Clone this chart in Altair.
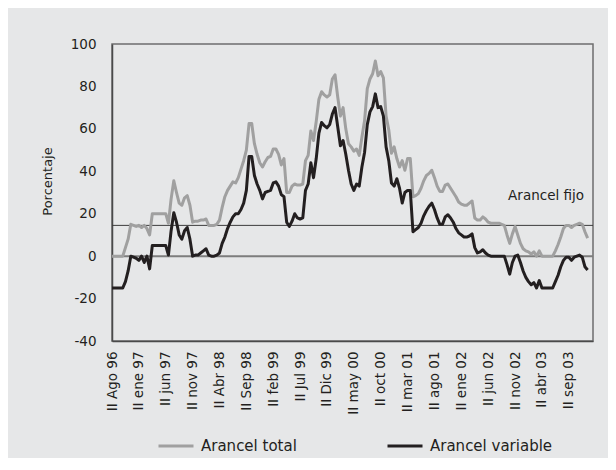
import altair as alt
import pandas as pd

# ---------------- data ----------------
x_labels = ["II Ago 96", "II ene 97", "II jun 97", "II nov 97", "II Abr 98", "II Sep 98",
            "II feb 99", "II Jul 99", "II Dic 99", "II may 00", "II oct 00", "II mar 01",
            "II ago 01", "II ene 02", "II jun 02", "II nov 02", "II abr 03", "II sep 03"]

arancel_total = [
    0, 0, 0, 0, 0, 4, 8, 15, 14.5, 14,
    14.5, 13.5, 14.5, 13, 10, 20, 20, 20, 20, 20,
    20, 15.5, 27, 35.5, 30, 25, 24, 27.5, 28.5, 24,
    16, 16.5, 16.5, 17, 17, 17.5, 14.5, 14.5, 14.5, 15,
    17, 23, 28, 31, 33, 35, 34.5, 37, 41, 45,
    50, 62.5, 62.5, 53, 48, 44, 42, 44.5, 46.5, 47,
    50.5, 50.5, 48, 43, 46, 30, 30, 33, 34, 33.5,
    33.5, 34, 45, 47.5, 59, 54.5, 63.5, 74, 77.5, 76,
    75, 76, 83.5, 85.5, 75, 66, 70, 60, 53, 51.5,
    49.5, 50.5, 47.5, 56, 64, 79, 83.5, 86, 92, 85,
    87, 84, 66, 59.5, 48.5, 51.5, 46, 42, 45, 40.5,
    46, 46, 28, 28.5, 29.5, 32, 35.5, 38, 39, 40.5,
    37, 33, 30.5, 30.5, 33.5, 34, 32, 30, 28, 25.5,
    24.5, 24, 24, 25, 26, 18, 17, 17, 18.5, 17.5,
    16, 15.5, 15.5, 15.5, 15.5, 15, 14.5, 10, 6, 10.5,
    14, 10, 6, 3.5, 2.5, 2, 1, 2, 0, 2.5,
    0, 0, 0, 0, 0, 2.5, 5.5, 9, 13, 14.5,
    14.5, 13.5, 14.5, 15, 15.5, 15, 11.5, 8.5]

arancel_variable = [
    -15, -15, -15, -15, -15, -12, -7, 0, -0.5, -1,
    -2, 0, -3, 0, -6, 5, 5, 5, 5, 5,
    5, 0.5, 12, 20.5, 16, 10, 8, 12, 13.5, 8,
    0, 0.5, 0.5, 1.5, 2.5, 3.5, 0.5, 0, 0, 0.5,
    1.5, 6, 9, 13, 16, 18.5, 20, 20, 22, 25,
    31, 47, 47, 38, 34, 31, 27, 30, 30.5, 31,
    34.5, 35, 33, 29, 28, 16, 14, 16.5, 20, 18,
    17.5, 18, 31, 34, 44, 37, 46, 58, 63, 61.5,
    60.5, 62, 67, 70, 61, 52, 54.5, 48, 40.5, 34,
    31, 34, 33, 42, 49, 62, 68, 70.5, 76.5, 70,
    70.5, 66, 51.5, 45, 34.5, 33, 36.5, 32, 25, 30,
    31, 31, 11.5, 12.5, 13.5, 15.5, 19, 21.5, 23.5, 25,
    22, 18, 15, 15, 18.5, 19.5, 18, 16, 13, 11,
    10, 9, 9, 9.5, 10.5, 4, 1.5, 2, 3, 1.5,
    0.5, 0, 0, 0, 0, 0, 0, -4, -8.5, -3,
    0, 0.5, -3, -7, -10, -12, -13.5, -12.5, -15, -11.5,
    -15, -15, -15, -15, -15, -12, -9, -5, -2, -0.5,
    -0.5, -2, -0.5, 0, 0.5, -0.5, -5, -6.5]

arancel_fijo = 14.5
y_ticks = [-40, -20, 0, 20, 40, 60, 80, 100]
series_names = ["Arancel total", "Arancel variable"]
series_colors = ["#a0a0a0", "#231f20"]
ref_names = ["cero", "fijo"]
ref_values = [0, arancel_fijo]
ref_colors = ["#7d7d7d", "#3c3c3c"]

X0, X1 = 0, 179
Y0, Y1 = -40, 100

# ---------------- table ----------------
n = len(arancel_total)
rows_i, rows_v, rows_s = [], [], []
for name, val in zip(ref_names, ref_values):      # reference lines first (drawn below)
    rows_i += [X0, X1]
    rows_v += [val, val]
    rows_s += [name, name]
rows_i += list(range(n)) * 2
rows_v += arancel_total + arancel_variable
rows_s += [series_names[0]] * n + [series_names[1]] * n
df = pd.DataFrame({"i": rows_i, "v": rows_v, "serie": rows_s})

W, H = 481, 297
FONT = "DejaVu Sans"
TXT = "#231f20"
BG = "#e6e7e8"

all_names = ref_names + series_names
lab_expr = "split('" + "|".join(x_labels) + "', '|')[round(datum.value/10)]"

chart = alt.Chart(df).mark_line(strokeJoin="round").encode(
    x=alt.X("i:Q", scale=alt.Scale(domain=[X0, X1], nice=False, zero=False),
            axis=alt.Axis(values=[k * 10 for k in range(len(x_labels))], labelExpr=lab_expr,
                          labelAngle=270, ticks=False, grid=False, title=None,
                          domainColor="#4a4a4a", domainWidth=1.5, labelPadding=10,
                          labelFont=FONT, labelFontSize=13.5, labelColor=TXT)),
    y=alt.Y("v:Q", scale=alt.Scale(domain=[Y0, Y1], nice=False),
            axis=alt.Axis(values=y_ticks, labelExpr="'' + datum.value", ticks=False, grid=False,
                          title="Porcentaje", titleFont=FONT, titleFontSize=13,
                          titleFontWeight="normal", titleColor=TXT, titlePadding=16,
                          titleY=137,
                          domainColor="#4a4a4a", domainWidth=1.5, labelPadding=16,
                          labelFont=FONT, labelFontSize=13.5, labelColor=TXT)),
    color=alt.Color("serie:N",
                    scale=alt.Scale(domain=all_names, range=ref_colors + series_colors),
                    legend=alt.Legend(title=None, values=series_names, orient="none",
                                      legendX=45, legendY=383,
                                      direction="horizontal", symbolType="stroke",
                                      symbolSize=1225, symbolStrokeWidth=3,
                                      labelFont=FONT, labelFontSize=15, labelColor=TXT,
                                      columnPadding=84, labelOffset=6)),
    strokeWidth=alt.StrokeWidth("serie:N",
                                scale=alt.Scale(type="ordinal", domain=all_names,
                                                range=[2, 1, 3, 3]),
                                legend=None),
).properties(
    width=W, height=H,
    autosize=alt.AutoSizeParams(type="none"),
    padding={"left": 104, "top": 36, "right": 15, "bottom": 117},
    background=BG,
    title=alt.TitleParams(text="Arancel fijo", anchor="end", orient="top", frame="group",
                          offset=0, baseline="alphabetic", dx=-9, dy=176,
                          font=FONT, fontSize=13.5, fontWeight="normal", color=TXT),
).configure(background=BG).configure_view(stroke="#6e6e6e", strokeWidth=1.5, fill=BG)

chart.save("out.html", embed_options={"renderer": "svg", "actions": False})
